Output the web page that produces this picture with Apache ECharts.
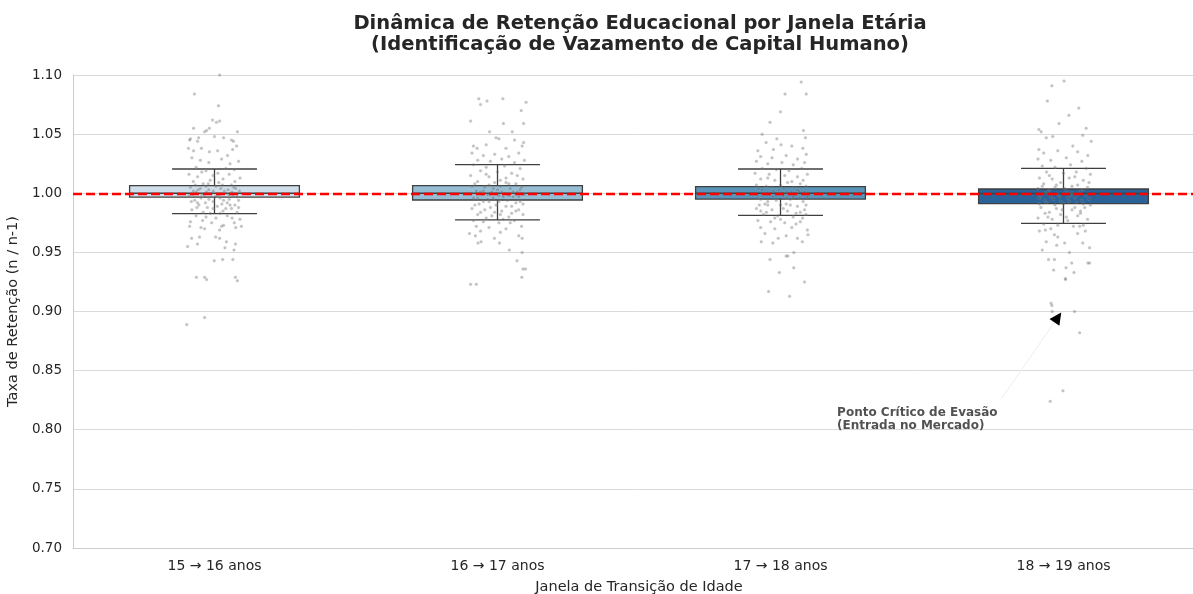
<!DOCTYPE html>
<html>
<head>
<meta charset="utf-8">
<title>Dinâmica de Retenção Educacional</title>
<script src="https://cdn.jsdelivr.net/npm/echarts@6/dist/echarts.min.js"></script>
<style>
  html, body { margin: 0; padding: 0; background: #fff; }
  #chart { width: 1193px; height: 594px; }
</style>
</head>
<body>
<div id="chart"></div>
<script>
// categorias (janelas de idade)
const categories = ['15 → 16 anos', '16 → 17 anos', '17 → 18 anos', '18 → 19 anos'];

// caixas: [mínimo do bigode, Q1, mediana, Q3, máximo do bigode]
const boxStats = [
  [0.9827, 0.9968, 1.0000, 1.0064, 1.0205],
  [0.9774, 0.9943, 1.0000, 1.0064, 1.0242],
  [0.9813, 0.9951, 1.0000, 1.0056, 1.0205],
  [0.9746, 0.9912, 0.9998, 1.0036, 1.0211]
];

const boxColors = ['#cfdeeb', '#95bed4', '#5a94b9', '#2a6399'];

// pontos individuais: [deslocamento horizontal (jitter), taxa]
const points1516 = [
  [0.018,1.100],[-0.071,1.084],[0.014,1.074],[-0.007,1.062],[0.007,1.060],[0.018,1.061],[-0.074,1.055],[-0.018,1.055],
  [-0.035,1.052],[-0.028,1.053],[0.081,1.052],[-0.085,1.046],[-0.088,1.045],[-0.060,1.044],[-0.056,1.047],[0.000,1.048],
  [0.032,1.047],[0.060,1.045],[0.067,1.044],[-0.092,1.038],[-0.074,1.036],[-0.046,1.038],[-0.018,1.035],[0.011,1.036],
  [0.046,1.032],[0.064,1.037],[0.078,1.040],[-0.080,1.030],[-0.050,1.028],[-0.020,1.026],[0.025,1.029],[0.055,1.025],
  [0.085,1.027],[-0.065,1.022],[0.040,1.021],[0.070,1.020],[-0.030,1.019],[-0.090,1.016],[-0.060,1.014],[-0.005,1.015],
  [0.030,1.012],[0.090,1.013],[-0.075,1.010],[-0.040,1.008],[0.015,1.009],[0.060,1.007],[-0.085,1.005],[-0.050,1.004],
  [-0.020,1.003],[0.005,1.006],[0.035,1.002],[0.075,1.004],[-0.065,1.001],[-0.010,1.000],[0.050,0.999],[0.095,1.000],
  [-0.090,0.998],[-0.035,0.997],[0.020,0.996],[0.065,0.998],[-0.070,0.994],[-0.005,0.993],[0.045,0.992],[0.085,0.994],
  [-0.055,0.990],[-0.025,0.988],[0.010,0.989],[0.060,0.987],[-0.080,0.986],[0.030,0.985],[0.080,0.984],[-0.065,0.981],
  [-0.030,0.980],[0.005,0.979],[0.045,0.981],[0.090,0.978],[-0.085,0.976],[-0.010,0.975],[0.070,0.975],[-0.088,0.972],
  [-0.048,0.971],[-0.035,0.970],[0.025,0.972],[0.018,0.969],[0.032,0.973],[0.075,0.971],[0.095,0.972],[-0.081,0.962],
  [-0.053,0.963],[-0.060,0.957],[0.018,0.962],[0.004,0.963],[0.074,0.957],[0.042,0.959],[-0.095,0.955],[0.069,0.952],
  [0.037,0.954],[-0.001,0.943],[0.029,0.944],[0.065,0.944],[-0.064,0.929],[-0.035,0.929],[-0.028,0.927],[0.074,0.929],
  [0.081,0.926],[-0.035,0.895],[-0.098,0.889],
  [-0.045,1.018],[0.012,1.017],[0.052,1.016],[-0.015,1.011],[0.072,1.010],[-0.030,1.006],[0.022,1.004],[-0.075,1.002],
  [0.040,1.000],[-0.045,0.999],[0.010,0.998],[0.080,0.997],[-0.020,0.995],[0.032,0.994],[-0.060,0.992],[0.055,0.990],
  [-0.005,0.987],[-0.040,0.984],[0.020,0.983],[0.062,0.979],
  [-0.068,1.007],[-0.022,1.008],[0.028,1.007],[0.068,1.005],[-0.058,1.003],[-0.004,1.002],[0.048,1.003],[0.088,1.002],
  [-0.078,0.999],[-0.028,1.001],[0.018,0.999],[0.062,1.001],[-0.048,0.996],[0.002,0.997],[0.052,0.995],[-0.082,0.993],
  [-0.032,0.992],[0.026,0.991],[0.072,0.990],[-0.062,0.988],[0.040,0.987],[-0.015,0.983],[0.085,0.988],[-0.042,0.977]
];

const points1617 = [
  [-0.066,1.080],[-0.060,1.075],[-0.037,1.078],[0.019,1.080],[0.101,1.077],[0.084,1.070],[-0.095,1.061],[0.021,1.059],
  [0.092,1.059],[-0.028,1.052],[0.052,1.052],[-0.005,1.047],[0.005,1.046],[0.060,1.045],[0.092,1.043],[0.087,1.040],
  [-0.085,1.040],[-0.072,1.038],[-0.040,1.041],[0.030,1.038],[-0.090,1.034],[-0.050,1.032],[-0.010,1.033],[0.040,1.031],
  [0.075,1.034],[-0.070,1.028],[-0.025,1.027],[0.015,1.029],[0.060,1.026],[0.095,1.028],[-0.085,1.024],[-0.040,1.022],
  [0.025,1.023],[0.080,1.021],[-0.060,1.019],[0.000,1.018],[0.050,1.017],[-0.095,1.015],[-0.030,1.014],[0.030,1.013],
  [0.090,1.012],[-0.070,1.010],[-0.010,1.009],[0.065,1.008],[-0.090,1.006],[-0.045,1.005],[0.010,1.006],[0.045,1.004],
  [0.085,1.005],[-0.075,1.002],[-0.020,1.001],[0.025,1.000],[0.070,1.001],[-0.055,0.999],[0.005,0.998],[0.055,0.997],
  [0.095,0.999],[-0.085,0.996],[-0.035,0.995],[0.035,0.994],[0.080,0.993],[-0.065,0.991],[-0.005,0.990],[0.050,0.989],
  [-0.090,0.987],[-0.045,0.986],[0.015,0.985],[0.075,0.986],[-0.070,0.982],[-0.020,0.981],[0.040,0.980],[0.090,0.982],
  [-0.085,0.977],[-0.050,0.976],[0.005,0.975],[0.060,0.977],[-0.075,0.972],[-0.030,0.971],[0.030,0.970],[0.085,0.972],
  [-0.099,0.966],[-0.078,0.964],[-0.069,0.958],[-0.058,0.959],[-0.011,0.962],[0.007,0.958],[0.075,0.964],[0.087,0.962],
  [0.042,0.952],[0.087,0.950],[0.069,0.943],[0.090,0.936],[0.099,0.936],[0.086,0.929],[-0.095,0.923],[-0.075,0.923],
  [-0.040,1.016],[0.010,1.011],[0.070,1.015],[-0.015,1.004],[0.040,1.008],[-0.060,1.001],[0.020,0.997],[-0.030,0.993],
  [0.065,0.992],[-0.010,0.984],[0.050,0.983],[-0.040,0.979],[0.020,0.978],[-0.060,0.968],[0.010,0.967],
  [-0.080,1.008],[-0.030,1.007],[0.030,1.009],[0.080,1.003],[-0.050,1.002],[0.000,1.003],[0.055,1.001],[-0.090,1.000],
  [-0.035,0.999],[0.015,1.001],[0.075,0.997],[-0.070,0.996],[-0.015,0.996],[0.040,0.998],[-0.050,0.993],[0.005,0.993],
  [0.090,0.991],[-0.080,0.990],[0.030,0.989],[-0.025,0.988],[0.065,0.985],[-0.060,0.984],[0.010,0.982],[0.045,0.975]
];

const points1718 = [
  [0.073,1.094],[0.016,1.084],[0.091,1.084],[0.000,1.069],[-0.037,1.060],[-0.065,1.050],[0.081,1.053],[0.088,1.047],
  [-0.051,1.043],[-0.013,1.046],[0.002,1.041],[-0.025,1.037],[0.079,1.038],[0.091,1.033],[-0.080,1.036],[0.040,1.040],
  [-0.070,1.031],[-0.030,1.030],[0.020,1.032],[0.060,1.029],[-0.085,1.027],[-0.045,1.025],[0.005,1.026],[0.045,1.024],
  [0.085,1.026],[-0.065,1.021],[-0.015,1.020],[0.030,1.019],[0.075,1.021],[-0.090,1.017],[-0.040,1.016],[0.015,1.015],
  [0.060,1.014],[0.095,1.016],[-0.070,1.012],[-0.020,1.011],[0.040,1.010],[0.080,1.011],[-0.085,1.007],[-0.050,1.006],
  [0.000,1.007],[0.050,1.005],[0.090,1.006],[-0.065,1.003],[-0.025,1.002],[0.020,1.001],[0.065,1.002],[-0.090,0.999],
  [-0.040,0.999],[0.010,0.998],[0.055,0.999],[0.095,0.997],[-0.070,0.995],[-0.015,0.994],[0.035,0.995],[0.080,0.993],
  [-0.055,0.991],[0.000,0.990],[0.060,0.989],[-0.085,0.987],[-0.030,0.986],[0.025,0.985],[0.085,0.986],[-0.060,0.982],
  [-0.010,0.981],[0.045,0.980],[0.090,0.982],[-0.080,0.977],[-0.035,0.976],[0.015,0.975],[0.070,0.976],[-0.070,0.971],
  [-0.020,0.970],[0.040,0.971],[0.095,0.969],[-0.068,0.959],[-0.027,0.958],[-0.008,0.962],[0.020,0.964],[0.077,0.959],
  [0.097,0.965],[0.020,0.947],[0.026,0.947],[0.047,0.950],[-0.037,0.944],[-0.004,0.933],[0.047,0.937],[0.085,0.925],
  [-0.042,0.917],[0.032,0.913],
  [-0.045,1.013],[0.025,1.009],[0.070,1.008],[-0.005,1.003],[0.045,0.997],[-0.045,0.993],[0.020,0.991],[-0.075,0.990],
  [0.070,0.984],[-0.050,0.984],[0.000,0.978],[0.055,0.974],[-0.055,0.966],[0.060,0.962],
  [-0.078,1.004],[-0.032,1.005],[0.012,1.004],[0.058,1.003],[0.085,1.001],[-0.058,1.000],[-0.008,1.000],[0.038,1.001],
  [-0.082,0.996],[-0.028,0.997],[0.022,0.996],[0.068,0.996],[-0.045,0.990],[0.035,0.990],[0.090,0.990],[-0.070,0.985],
  [0.010,0.987],[0.055,0.983],[-0.020,0.979],[0.078,0.979]
];

const points1819 = [
  [0.002,1.095],[-0.041,1.091],[-0.057,1.078],[0.054,1.072],[0.019,1.066],[-0.016,1.059],[0.080,1.055],[-0.087,1.054],
  [-0.079,1.052],[-0.061,1.047],[-0.038,1.048],[0.068,1.049],[0.098,1.044],[-0.087,1.037],[0.033,1.040],[0.086,1.032],
  [-0.070,1.034],[-0.020,1.036],[0.050,1.035],[-0.090,1.029],[-0.045,1.028],[0.010,1.030],[0.065,1.027],[-0.075,1.023],
  [-0.030,1.022],[0.025,1.024],[0.080,1.021],[-0.060,1.018],[0.000,1.017],[0.045,1.018],[0.095,1.016],[-0.085,1.013],
  [-0.040,1.012],[0.020,1.013],[0.070,1.011],[-0.070,1.008],[-0.010,1.009],[0.050,1.007],[0.090,1.009],[-0.090,1.004],
  [-0.050,1.003],[0.005,1.004],[0.060,1.002],[-0.065,1.000],[-0.020,0.999],[0.030,1.000],[0.080,0.998],[-0.085,0.996],
  [-0.035,0.995],[0.015,0.996],[0.065,0.994],[-0.060,0.992],[0.000,0.991],[0.045,0.992],[0.095,0.990],[-0.080,0.988],
  [-0.025,0.987],[0.030,0.986],[0.075,0.988],[-0.065,0.983],[-0.010,0.982],[0.050,0.981],[-0.090,0.979],[-0.040,0.978],
  [0.015,0.977],[0.085,0.978],[-0.070,0.974],[-0.020,0.973],[0.035,0.972],[0.070,0.973],
  [-0.085,0.968],[-0.064,0.969],[-0.032,0.965],[-0.020,0.963],[0.077,0.968],[0.057,0.972],[-0.061,0.959],[-0.024,0.956],
  [0.004,0.958],[0.068,0.958],[0.092,0.954],[-0.075,0.952],[0.021,0.950],[-0.053,0.944],[-0.032,0.944],[0.029,0.941],
  [0.086,0.941],[0.092,0.941],[0.009,0.937],[0.037,0.933],[-0.035,0.935],[0.007,0.928],[0.007,0.927],[-0.044,0.907],
  [-0.041,0.905],[-0.040,0.900],[0.039,0.900],[0.057,0.882],[-0.002,0.833],[-0.047,0.824],
  [-0.050,1.015],[0.040,1.014],[-0.030,1.005],[0.015,1.001],[0.070,1.003],[-0.045,0.997],[0.040,0.996],[-0.010,0.993],
  [0.060,0.985],[-0.050,0.984],[0.010,0.980],[-0.045,0.970],[0.050,0.966],
  [-0.075,1.006],[-0.025,1.007],[0.030,1.006],[0.085,1.005],[-0.055,1.001],[0.005,1.000],[0.050,0.999],[-0.080,0.998],
  [-0.015,0.997],[0.025,0.998],[0.090,0.995],[-0.065,0.994],[0.020,0.993],[0.070,0.991],[-0.030,0.990],[-0.085,0.991],
  [0.040,0.988],[-0.005,0.986],[0.060,0.983],[-0.055,0.980]
];

const pointGroups = [points1516, points1617, points1718, points1819];

// anotação
const noteText = 'Ponto Crítico de Evasão\n(Entrada no Mercado)';
const noteAnchor = [2.2, 0.798];
const arrowFrom = [2.78, 0.826];
const arrowTo = [2.98, 0.895];

const referenceLine = 1.0;

const stripData = [];
pointGroups.forEach((group, i) => {
  group.forEach(p => stripData.push([i + p[0], p[1]]));
});

const boxData = boxStats.map((s, i) => [i].concat(s));

const textColor = '#262626';
const fontFamily = 'DejaVu Sans, Noto Sans, sans-serif';

var chart = echarts.init(document.getElementById('chart'));

var option = {
  animation: false,
  backgroundColor: '#ffffff',
  textStyle: { fontFamily: fontFamily },
  title: {
    text: 'Dinâmica de Retenção Educacional por Janela Etária\n(Identificação de Vazamento de Capital Humano)',
    left: 635,
    top: 8,
    textAlign: 'center',
    textStyle: {
      fontFamily: fontFamily,
      fontSize: 19.5,
      fontWeight: 'bold',
      color: textColor,
      lineHeight: 21
    }
  },
  grid: { left: 73, right: -12, top: 75, bottom: 46, outerBoundsMode: 'none', containLabel: false },
  xAxis: [
    {
      type: 'category',
      data: categories,
      axisLine: { show: true, lineStyle: { color: '#cccccc', width: 1 } },
      axisTick: { show: false },
      axisLabel: { color: textColor, fontSize: 14, margin: 11, fontFamily: fontFamily },
      splitLine: { show: false },
      name: 'Janela de Transição de Idade',
      nameLocation: 'middle',
      nameGap: 32,
      nameTextStyle: { color: textColor, fontSize: 14.5, fontFamily: fontFamily }
    },
    {
      type: 'value',
      min: -0.5,
      max: 3.5,
      show: false
    }
  ],
  yAxis: {
    type: 'value',
    min: 0.70,
    max: 1.10,
    interval: 0.05,
    axisLine: { show: true, onZero: false, lineStyle: { color: '#cccccc', width: 1 } },
    axisTick: { show: false },
    axisLabel: {
      color: textColor,
      fontSize: 13.5,
      margin: 11,
      fontFamily: fontFamily,
      formatter: v => v.toFixed(2)
    },
    splitLine: { show: true, lineStyle: { color: '#dadada', width: 1 } },
    name: 'Taxa de Retenção (n / n-1)',
    nameLocation: 'middle',
    nameGap: 43,
    nameTextStyle: { color: textColor, fontSize: 14.5, fontFamily: fontFamily }
  },
  series: [
    {
      // caixas no estilo seaborn (bigodes com meia largura)
      type: 'custom',
      xAxisIndex: 1,
      z: 2,
      data: boxData,
      renderItem: function (params, api) {
        const i = api.value(0);
        const unit = api.size([1, 0])[0];
        const half = unit * 0.3;
        const capHalf = unit * 0.15;
        const pLow = api.coord([i, api.value(1)]);
        const pQ1 = api.coord([i, api.value(2)]);
        const pMed = api.coord([i, api.value(3)]);
        const pQ3 = api.coord([i, api.value(4)]);
        const pHigh = api.coord([i, api.value(5)]);
        const x = pQ1[0];
        const stroke = { stroke: '#3f3f3f', lineWidth: 1.3, fill: null };
        return {
          type: 'group',
          children: [
            { type: 'line', shape: { x1: x, y1: pQ1[1], x2: x, y2: pLow[1] }, style: stroke },
            { type: 'line', shape: { x1: x, y1: pQ3[1], x2: x, y2: pHigh[1] }, style: stroke },
            { type: 'line', shape: { x1: x - capHalf, y1: pLow[1], x2: x + capHalf, y2: pLow[1] }, style: stroke },
            { type: 'line', shape: { x1: x - capHalf, y1: pHigh[1], x2: x + capHalf, y2: pHigh[1] }, style: stroke },
            {
              type: 'rect',
              shape: { x: x - half, y: pQ3[1], width: half * 2, height: pQ1[1] - pQ3[1] },
              style: { fill: boxColors[params.dataIndex], stroke: '#3f3f3f', lineWidth: 1.3 }
            },
            { type: 'line', shape: { x1: x - half, y1: pMed[1], x2: x + half, y2: pMed[1] }, style: stroke }
          ]
        };
      }
    },
    {
      type: 'scatter',
      xAxisIndex: 1,
      z: 3,
      symbol: 'circle',
      symbolSize: 3,
      itemStyle: { color: 'rgba(90,90,90,0.45)', borderColor: 'rgba(200,200,200,0.5)', borderWidth: 0.4 },
      data: stripData,
      silent: true,
      markLine: {
        silent: true,
        symbol: ['none', 'none'],
        label: { show: false },
        lineStyle: { color: '#ff0000', width: 2.3, type: [9, 4] },
        data: [{ yAxis: referenceLine }]
      }
    },
    {
      // texto e seta da anotação
      type: 'scatter',
      xAxisIndex: 1,
      z: 5,
      symbolSize: 0,
      data: [noteAnchor],
      silent: true,
      label: {
        show: true,
        formatter: noteText,
        position: [0, 0],
        align: 'left',
        verticalAlign: 'bottom',
        fontFamily: fontFamily,
        fontSize: 12,
        fontWeight: 'bold',
        lineHeight: 13,
        color: textColor
      },
      markLine: {
        silent: true,
        label: { show: false },
        data: [
          [
            { coord: arrowFrom, symbol: 'none', lineStyle: { color: '#eeeeee', width: 1, type: 'solid' } },
            { coord: arrowTo, symbol: 'none' }
          ],
          [
            { coord: [arrowTo[0] - 0.01, arrowTo[1] - 0.0035], symbol: 'none', lineStyle: { color: '#000000', width: 1, type: 'solid' } },
            { coord: arrowTo, symbol: 'triangle', symbolSize: 12 }
          ]
        ]
      }
    }
  ]
};

chart.setOption(option);
</script>
</body>
</html>
